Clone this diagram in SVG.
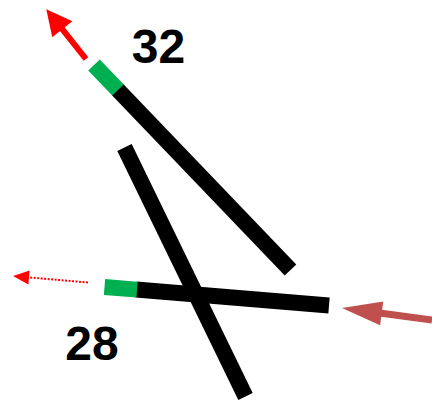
<svg xmlns="http://www.w3.org/2000/svg" width="432" height="403" viewBox="0 0 432 403">
<style>
.bar{stroke:#000;stroke-width:16;fill:none;stroke-linecap:butt}
.grn{stroke:#00B050;stroke-width:16;fill:none;stroke-linecap:butt}
.lbl{font-family:"Liberation Sans",Arial,sans-serif;font-weight:bold;font-size:48px;fill:#000;text-anchor:middle}
</style>
<defs>
<marker id="ahRed" markerUnits="userSpaceOnUse" markerWidth="30" markerHeight="30" refX="-15" refY="0" viewBox="-26 -14 28 28" orient="auto">
<path d="M0,0 L-24,-12 L-24,12 Z" fill="#FF0000"/>
</marker>
<marker id="ahDot" markerUnits="userSpaceOnUse" markerWidth="20" markerHeight="20" refX="-10" refY="0" viewBox="-18 -9 20 18" orient="auto">
<path d="M0,0 L-16,-7 L-16,7 Z" fill="#FF0000"/>
</marker>
<marker id="ahBrown" markerUnits="userSpaceOnUse" markerWidth="44" markerHeight="30" refX="-25" refY="0" viewBox="-42 -14 44 28" orient="auto">
<path d="M0,0 L-40,-12 L-40,12 Z" fill="#C0504D"/>
</marker>
</defs>
<g id="bar-32">
<line class="bar" x1="117.5" y1="89.5" x2="290.5" y2="270"/>
<line class="grn" x1="94" y1="65" x2="118" y2="90"/>
</g>
<g id="bar-mid">
<line class="bar" x1="124.5" y1="147.5" x2="245.5" y2="396.5"/>
</g>
<g id="bar-28">
<line class="bar" x1="136" y1="289.5" x2="329" y2="305.5"/>
<line class="grn" x1="104.5" y1="287" x2="137" y2="289.6"/>
</g>
<g id="label-32"><text class="lbl" x="158.5" y="63">32</text></g>
<g id="label-28"><text class="lbl" x="92" y="360">28</text></g>
<g id="connectors">
<line x1="86" y1="59" x2="56.3" y2="21.7" stroke="#FF0000" stroke-width="6" marker-end="url(#ahRed)"/>
<line x1="88" y1="282.5" x2="23" y2="276.9" stroke="#FF0000" stroke-width="2" stroke-dasharray="2,1.5" marker-end="url(#ahDot)"/>
<line x1="432" y1="320" x2="366.8" y2="311.3" stroke="#C0504D" stroke-width="7" marker-end="url(#ahBrown)"/>
</g>
</svg>
